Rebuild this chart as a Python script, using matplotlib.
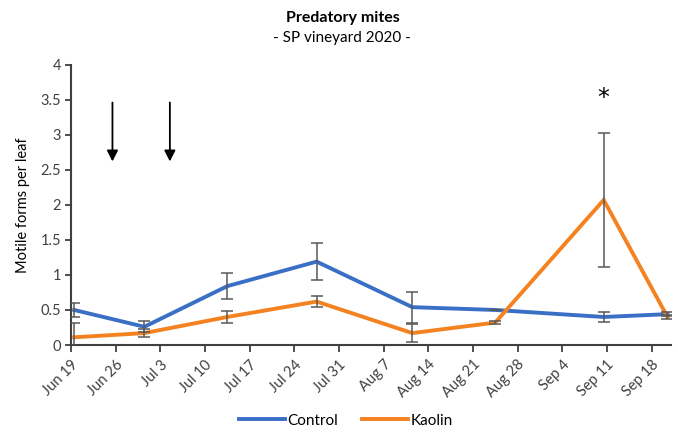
import matplotlib
matplotlib.use("Agg")
import matplotlib.pyplot as plt
import matplotlib.dates as mdates
import numpy as np
import datetime as dt

plt.rcParams['font.family'] = ['Lato', 'DejaVu Sans']

# Data
sample_dates = ["2020-06-19", "2020-06-30", "2020-07-13", "2020-07-27",
                "2020-08-11", "2020-08-24", "2020-09-10", "2020-09-20"]
control = [0.50, 0.26, 0.84, 1.19, 0.54, 0.50, 0.40, 0.44]
control_err = [0.10, 0.08, 0.19, 0.26, 0.22, 0.0, 0.07, 0.03]
kaolin = [0.11, 0.17, 0.40, 0.62, 0.17, 0.32, 2.07, 0.40]
kaolin_err = [0.21, 0.06, 0.09, 0.08, 0.13, 0.02, 0.96, 0.03]
application_dates = ["2020-06-25", "2020-07-04"]
tick_labels = ["Jun 19", "Jun 26", "Jul 3", "Jul 10", "Jul 17", "Jul 24", "Jul 31",
               "Aug 7", "Aug 14", "Aug 21", "Aug 28", "Sep 4", "Sep 11", "Sep 18"]
signif_date = "2020-09-10"
signif_mark = "*"

blue = "#3A6FC6"
orange = "#F58220"

# Excel-like "between tick marks": each day is a slot, points at slot centre
half = dt.timedelta(hours=12)
x = [mdates.date2num(dt.datetime.fromisoformat(d) + half) for d in sample_dates]

fig = plt.figure(figsize=(6.78, 4.36), dpi=100)
ax = fig.add_axes([0.1047, 0.2087, 0.8845, 0.6429])

ax.plot(x, control, color=blue, lw=2.8, label="Control", zorder=3, solid_joinstyle='miter')
ax.plot(x, kaolin, color=orange, lw=2.8, label="Kaolin", zorder=3, solid_joinstyle='miter')
ax.errorbar(x, control, yerr=control_err, fmt='none', ecolor='#595959', elinewidth=1.1,
            capsize=4, capthick=1.1, zorder=4)
ax.errorbar(x, kaolin, yerr=kaolin_err, fmt='none', ecolor='#595959', elinewidth=1.1,
            capsize=4, capthick=1.1, zorder=4)

# significance mark
xs = mdates.date2num(dt.datetime.fromisoformat(signif_date) + half)
ax.text(xs, 3.52, signif_mark, ha='center', va='center', fontsize=17, color='black',
        family='DejaVu Sans')

# application arrows
for d in application_dates:
    xa = mdates.date2num(dt.datetime.fromisoformat(d) + half)
    ax.annotate("", xy=(xa, 2.58), xytext=(xa, 3.5),
                arrowprops=dict(arrowstyle='-|>,head_length=0.65,head_width=0.33',
                                color='black', lw=1.3))

ticks = [mdates.date2num(dt.datetime(2020, 6, 19) + dt.timedelta(days=7 * i))
         for i in range(len(tick_labels))]
ax.set_xticks(ticks)
ax.set_xticklabels(tick_labels, rotation=45, ha='right', rotation_mode='anchor',
                   fontsize=10.5, color='#404040')
ax.set_xlim(mdates.date2num(dt.datetime(2020, 6, 19)), mdates.date2num(dt.datetime(2020, 9, 21)))
ax.set_ylim(0, 4)
ax.set_yticks(np.arange(0, 4.01, 0.5))
ax.set_yticklabels(["0", "0.5", "1", "1.5", "2", "2.5", "3", "3.5", "4"], fontsize=10.5,
                   color='#404040')
ax.tick_params(axis='x', length=5, width=1.3, color='#404040', pad=4)
ax.tick_params(axis='y', length=4, width=1.3, color='#404040', pad=3)

for s in ['top', 'right']:
    ax.spines[s].set_visible(False)
for s in ['left', 'bottom']:
    ax.spines[s].set_linewidth(1.5)
    ax.spines[s].set_color('#404040')

ax.set_ylabel("Motile forms per leaf", fontsize=10.5, color='black', labelpad=8)

fig.text(0.505, 0.958, "Predatory mites", ha='center', va='center', fontsize=11.5,
         fontweight='bold')
fig.text(0.505, 0.913, "- SP vineyard 2020 -", ha='center', va='center', fontsize=11)

leg = fig.legend(loc='center', bbox_to_anchor=(0.51, 0.035), ncol=2, frameon=False,
                 fontsize=11, handlelength=3.0, handletextpad=0.15, columnspacing=1.6)

fig.savefig("out.png", dpi=100)
